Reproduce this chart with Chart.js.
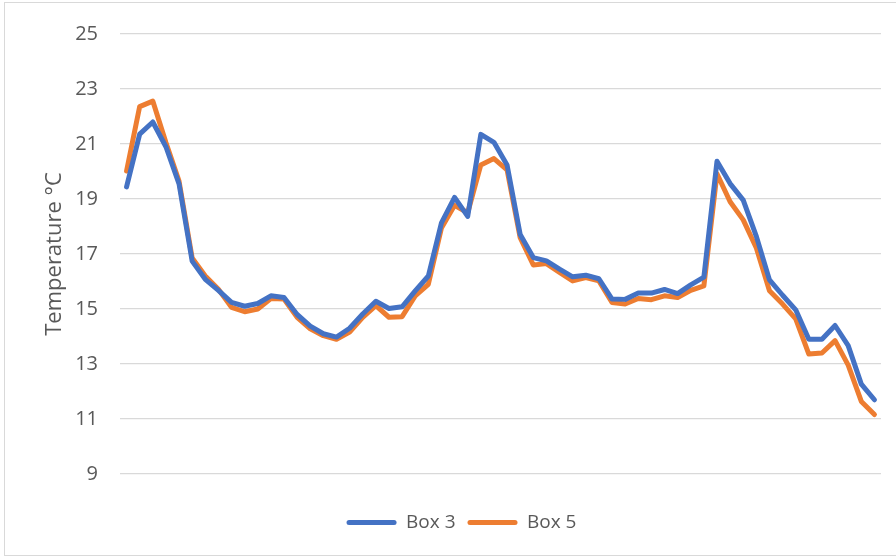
<!DOCTYPE html>
<html>
<head>
<meta charset="utf-8">
<script src="https://cdn.jsdelivr.net/npm/chart.js@4"></script>
<style>
  html, body { margin: 0; padding: 0; background: #ffffff; }
  #wrap { position: relative; width: 896px; height: 560px; overflow: hidden; }
  #frame { position: absolute; left: 4px; top: 2px; width: 900px; height: 554px; border: 1px solid #d9d9d9; box-sizing: border-box; }
  canvas { position: absolute; left: 0; top: 0; }
</style>
</head>
<body>
<div id="wrap">
  <div id="frame"></div>
  <canvas id="c" width="896" height="560"></canvas>
</div>
<script>
const categories = Array.from({length: 58}, (_, i) => String(i + 1));
const box3 = [19.44, 21.36, 21.80, 20.9, 19.55, 16.74, 16.08, 15.68, 15.24, 15.1,
              15.2, 15.48, 15.42, 14.8, 14.38, 14.1, 13.98, 14.3, 14.82, 15.28,
              15.02, 15.08, 15.66, 16.2, 18.13, 19.06, 18.37, 21.35, 21.06, 20.24,
              17.71, 16.87, 16.75, 16.45, 16.17, 16.23, 16.1, 15.36, 15.35, 15.58,
              15.58, 15.71, 15.56, 15.88, 16.16, 20.37, 19.56, 18.96, 17.64, 16.06,
              15.5, 14.97, 13.9, 13.9, 14.4, 13.67, 12.27, 11.7];
const box5 = [20.02, 22.36, 22.56, 21.05, 19.65, 16.86, 16.2, 15.72, 15.06, 14.9,
              15.0, 15.38, 15.36, 14.7, 14.28, 14.03, 13.9, 14.16, 14.7, 15.12,
              14.7, 14.72, 15.48, 15.9, 17.95, 18.77, 18.5, 20.24, 20.47, 20.06,
              17.59, 16.6, 16.65, 16.33, 16.02, 16.14, 16.02, 15.24, 15.18, 15.38,
              15.34, 15.48, 15.42, 15.68, 15.84, 19.92, 18.9, 18.24, 17.22, 15.66,
              15.18, 14.64, 13.36, 13.4, 13.85, 12.96, 11.64, 11.16];
const seriesNames = ['Box 3', 'Box 5'];
const yTicks = [9, 11, 13, 15, 17, 19, 21, 23, 25];
const yTitle = 'Temperature °C';

const blue = '#4472C4';
const orange = '#ED7D31';
const textColor = '#595959';
const fontFamily = '"Open Sans", "Liberation Sans", sans-serif';

new Chart(document.getElementById('c'), {
  type: 'line',
  data: {
    labels: categories,
    datasets: [
      { label: seriesNames[0], data: box3, borderColor: blue, backgroundColor: blue,
        borderWidth: 5, pointRadius: 0, tension: 0, borderJoinStyle: 'round', borderCapStyle: 'round' },
      { label: seriesNames[1], data: box5, borderColor: orange, backgroundColor: orange,
        borderWidth: 5, pointRadius: 0, tension: 0, borderJoinStyle: 'round', borderCapStyle: 'round' }
    ]
  },
  options: {
    responsive: false,
    animation: false,
    devicePixelRatio: 1,
    layout: { padding: { left: 42, right: 15, top: 29, bottom: 18 } },
    scales: {
      x: {
        offset: true,
        grid: { display: false },
        border: { display: false },
        ticks: { display: false },
        afterFit: (s) => { s.height = 27; }
      },
      y: {
        min: 9, max: 25,
        afterBuildTicks: (s) => { s.ticks = yTicks.map(v => ({ value: v })); },
        afterFit: (s) => { s.width = 78; },
        grid: { color: '#d9d9d9', lineWidth: 1.3, drawTicks: false },
        border: { display: false },
        ticks: { color: textColor, padding: 22, font: { family: fontFamily, size: 20 } },
        title: { display: true, text: yTitle, color: textColor, padding: { top: 0, bottom: 0 },
                 font: { family: fontFamily, size: 22 } }
      }
    },
    plugins: {
      legend: {
        position: 'bottom',
        labels: {
          color: textColor,
          boxWidth: 50,
          boxHeight: 5,
          padding: 12,
          useBorderRadius: true,
          borderRadius: 2.5,
          font: { family: fontFamily, size: 19 },
          generateLabels: (chart) => {
            const items = Chart.defaults.plugins.legend.labels.generateLabels(chart);
            items.forEach(it => { it.lineWidth = 0; });
            return items;
          }
        }
      },
      tooltip: { enabled: false }
    }
  }
});
</script>
</body>
</html>
